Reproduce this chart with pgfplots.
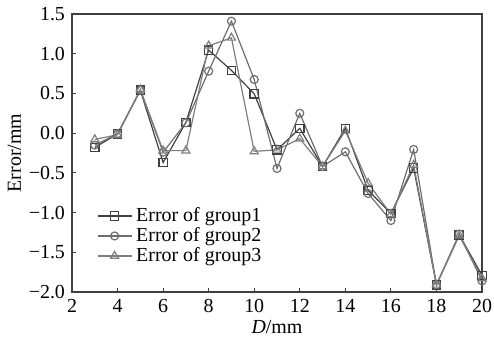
\documentclass[border=0pt]{standalone}
\usepackage{fontspec}
\setmainfont{Liberation Serif}
\usepackage{pgfplots}
\pgfplotsset{compat=1.18}
\definecolor{g1}{HTML}{404040}
\definecolor{g2}{HTML}{6E6E6E}
\definecolor{g3}{HTML}{7E7E7E}
\begin{document}
\begin{tikzpicture}
\begin{axis}[
  scale only axis,
  width=205bp, height=139bp,
  xmin=2, xmax=20, ymin=-2, ymax=1.5,
  xtick={2,4,...,20},
  ytick={-2,-1.5,-1,-0.5,0,0.5,1,1.5},
  yticklabels={−2.0,−1.5,−1.0,−0.5,0.0,0.5,1.0,1.5},
  /pgf/number format/assume math mode=true,
  tick align=inside,
  tick pos=left,
  major tick length=2bp,
  axis line style={line width=0.6pt, color=black!75},
  tick style={line width=0.5pt, color=black!75},
  xlabel={\textit{D}/mm},
  ylabel={Error/mm},
  xlabel style={yshift=3bp},
  ylabel style={yshift=-3bp},
  legend style={at={(0.06,0.32)}, anchor=north west, draw=none, fill=none,
    row sep=-2.5pt, font=\fontsize{10}{10}\selectfont, inner sep=0pt},
  legend cell align=left,
  every axis plot/.append style={line width=0.6pt},
]
\addplot[color=g1, mark=square, mark size=2.1bp, mark options={solid}] coordinates {
(3,-0.18) (4,-0.01) (5,0.54) (6,-0.37) (7,0.135) (8,1.045) (9,0.79) (10,0.495)
(11,-0.21) (12,0.06) (13,-0.42) (14,0.06) (15,-0.72) (16,-1.01) (17,-0.44)
(18,-1.91) (19,-1.28) (20,-1.79)};
\addlegendentry{Error of group1}
\addplot[color=g2, mark=o, mark size=2bp] coordinates {
(3,-0.15) (4,-0.01) (5,0.54) (6,-0.24) (7,0.13) (8,0.78) (9,1.41) (10,0.675)
(11,-0.445) (12,0.25) (13,-0.42) (14,-0.235) (15,-0.76) (16,-1.10) (17,-0.205)
(18,-1.91) (19,-1.27) (20,-1.86)};
\addlegendentry{Error of group2}
\addplot[color=g3, mark=triangle, mark size=2.3bp] coordinates {
(3,-0.08) (4,-0.02) (5,0.55) (6,-0.22) (7,-0.22) (8,1.10) (9,1.20) (10,-0.23)
(11,-0.21) (12,-0.07) (13,-0.42) (14,0.03) (15,-0.63) (16,-1.02) (17,-0.40)
(18,-1.91) (19,-1.29) (20,-1.83)};
\addlegendentry{Error of group3}
\coordinate (sw) at (rel axis cs:0,0);
\coordinate (ne) at (rel axis cs:1,1);
\end{axis}
\pgfresetboundingbox
\path ([shift={(-36bp,-23bp)}]sw) rectangle ([shift={(6bp,7bp)}]ne);
\end{tikzpicture}
\end{document}
